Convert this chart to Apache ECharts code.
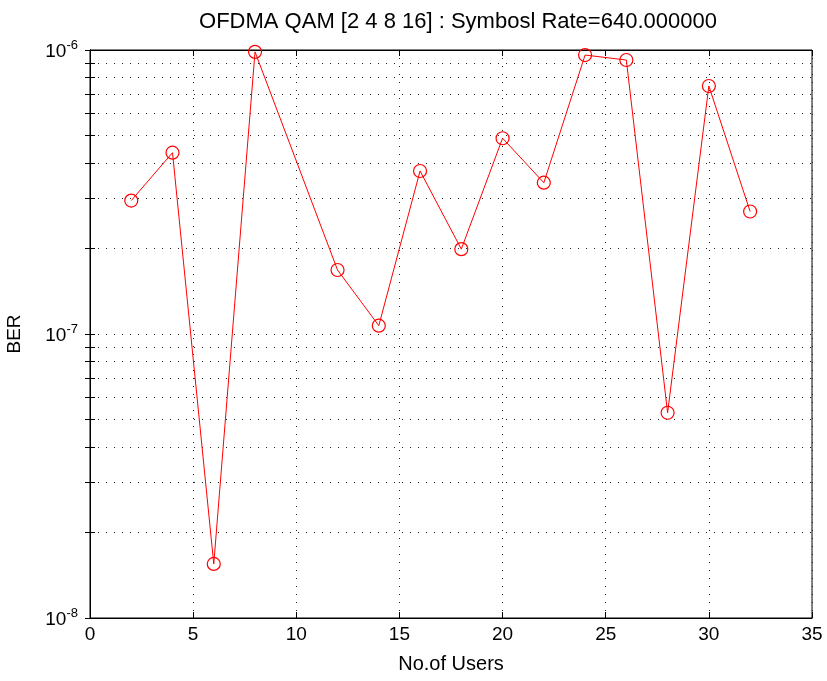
<!DOCTYPE html>
<html>
<head>
<meta charset="utf-8">
<script src="https://cdn.jsdelivr.net/npm/echarts@6/dist/echarts.min.js"></script>
<style>html,body{margin:0;padding:0;background:#fff}#c{width:827px;height:681px}</style>
</head>
<body>
<div id="c"></div>
<script>
const users = [2, 4, 6, 8, 12, 14, 16, 18, 20, 22, 24, 26, 28, 30, 32];
const ber = [2.95e-7, 4.35e-7, 1.55e-8, 9.85e-7, 1.68e-7, 1.07e-7, 3.75e-7, 1.99e-7, 4.89e-7, 3.41e-7, 9.6e-7, 9.22e-7, 5.28e-8, 7.47e-7, 2.70e-7];
const xTicks = [0, 5, 10, 15, 20, 25, 30, 35];
const yDecades = [1e-8, 1e-7, 1e-6];
const yMinor = [2e-8,3e-8,4e-8,5e-8,6e-8,7e-8,8e-8,9e-8,2e-7,3e-7,4e-7,5e-7,6e-7,7e-7,8e-7,9e-7];
const titleText = 'OFDMA QAM [2 4 8 16] : Symbosl Rate=640.000000';
const xName = 'No.of Users';
const yName = 'BER';

const FONT = 'Liberation Sans';
const dotted = {type: [1, 7], color: '#222', width: 1};
const allYTicks = yDecades.concat(yMinor).sort((a,b)=>a-b);

function expLabel(v) {
  const e = Math.round(Math.log10(v));
  return '{b|10}{s|' + e + '}';
}
const rich = {
  b: {fontFamily: FONT, fontSize: 19, color: '#000', verticalAlign: 'bottom', lineHeight: 22},
  s: {fontFamily: FONT, fontSize: 13, color: '#000', verticalAlign: 'top', padding: [0,0,10,0], lineHeight: 22}
};

const chart = echarts.init(document.getElementById('c'), null, {renderer: 'canvas'});
chart.setOption({
  animation: false,
  backgroundColor: '#fff',
  title: {
    text: titleText, left: 453, textAlign: 'center', top: 6,
    textStyle: {fontFamily: FONT, fontSize: 22, fontWeight: 'normal', color: '#000'}
  },
  grid: {left: 90, right: 15, top: 50, bottom: 63, show: true, borderColor: '#000', borderWidth: 1, outerBoundsMode: 'none', containLabel: false},
  xAxis: [{
    type: 'value', min: 0, max: 35, interval: 5,
    name: xName, nameLocation: 'middle', nameGap: 36,
    nameTextStyle: {fontFamily: FONT, fontSize: 20, color: '#000'},
    axisLine: {show: true, lineStyle: {color: '#000'}},
    axisTick: {show: true, inside: true, length: 6, lineStyle: {color: '#000'}},
    axisLabel: {fontFamily: FONT, fontSize: 19, color: '#000', margin: 7, customValues: xTicks},
    splitLine: {show: true, lineStyle: dotted}
  }, {
    type: 'value', min: 0, max: 35, interval: 5, position: 'top',
    axisLine: {show: true, lineStyle: {color: '#000'}},
    axisTick: {show: true, inside: true, length: 6, lineStyle: {color: '#000'}},
    axisLabel: {show: false}, splitLine: {show: false}
  }],
  yAxis: [{
    type: 'log', logBase: 10, min: 1e-8, max: 1e-6,
    name: yName, nameLocation: 'middle', nameGap: 66, nameRotate: 90,
    nameTextStyle: {fontFamily: FONT, fontSize: 19, color: '#000'},
    axisLine: {show: true, lineStyle: {color: '#000'}},
    axisTick: {show: true, inside: true, length: 5, lineStyle: {color: '#000'}, customValues: allYTicks},
    axisLabel: {formatter: expLabel, rich: rich, margin: 12, customValues: yDecades},
    splitLine: {show: true, lineStyle: dotted}
  }, {
    type: 'log', logBase: 10, min: 1e-8, max: 1e-6, position: 'right',
    axisLine: {show: true, lineStyle: {color: '#000'}},
    axisTick: {show: true, inside: true, length: 5, lineStyle: {color: '#000'}, customValues: allYTicks},
    axisLabel: {show: false}, splitLine: {show: false}
  }],
  series: [{
    type: 'line',
    data: users.map((u, i) => [u, ber[i]]),
    symbol: 'circle', symbolSize: 13,
    lineStyle: {color: '#ff0000', width: 1},
    itemStyle: {color: 'rgba(0,0,0,0)', borderColor: '#ff0000', borderWidth: 1.2},
    z: 5,
    markLine: {
      silent: true, symbol: ['none', 'none'], label: {show: false},
      lineStyle: dotted, animation: false, z: 1,
      data: yMinor.map(v => ({yAxis: v}))
    }
  }]
});
</script>
</body>
</html>
